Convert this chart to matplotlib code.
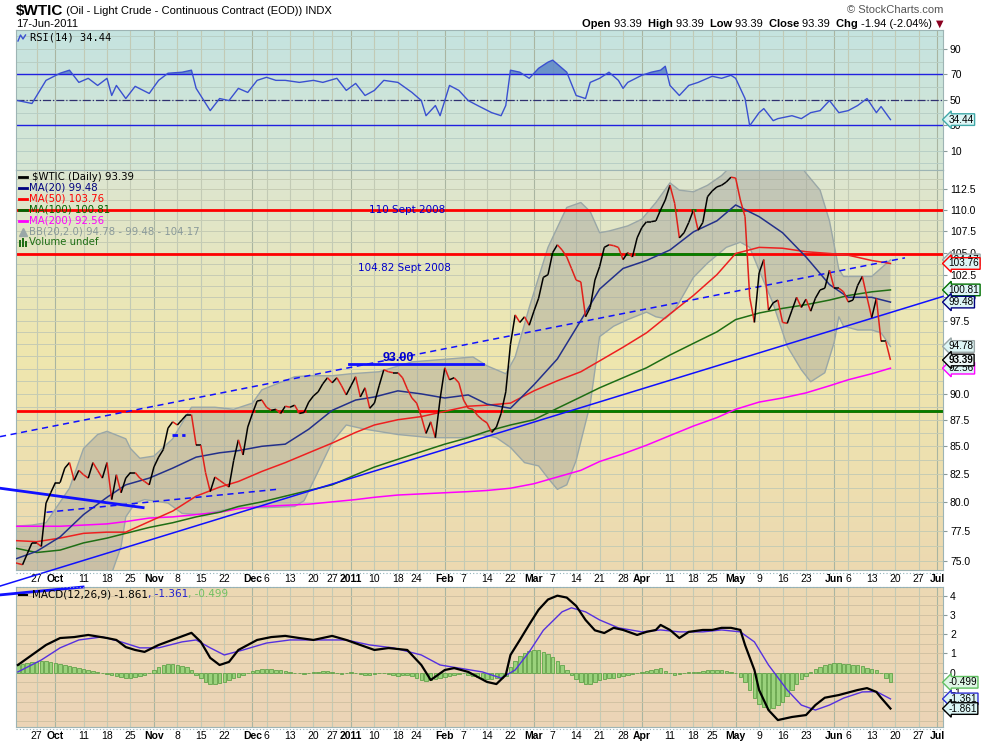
import numpy as np
import pandas as pd
import matplotlib
matplotlib.use('Agg')
import matplotlib.pyplot as plt
import matplotlib.transforms as mtransforms
from matplotlib.collections import LineCollection
from matplotlib.lines import Line2D
from matplotlib.ticker import FixedLocator, FormatStrFormatter, NullLocator

plt.rcParams['font.family'] = ['Liberation Sans', 'DejaVu Sans']

# trading days (NYMEX holidays left out, like the chart does)
holidays = ['2010-11-25', '2010-12-24', '2010-12-31', '2011-01-17',
            '2011-02-21', '2011-04-22', '2011-05-30']
days = pd.bdate_range('2010-09-20', '2011-07-01', freq='C', holidays=holidays)

# daily close, 20-Sep-2010 .. 17-Jun-2011
close = [74.9, 74.8, 74.7, 75.6, 76.5, 76.5, 76.2, 79.9, 80.8, 81.7,
         81.7, 83.0, 83.5, 81.9, 82.8, 82.4, 82.1, 83.5, 82.8, 82.1,
         83.5, 80.2, 82.4, 80.8,
         82.1, 82.6, 82.6, 82.1, 81.8, 81.5, 83.1, 84.0, 84.7, 86.7,
         87.3, 87.0, 87.5, 88.0, 88.0, 85.1, 85.1, 82.6, 80.9, 82.2,
         81.9, 81.6, 81.3, 83.7,
         85.6, 84.2, 86.8, 88.1, 89.3, 89.4, 88.7, 88.4, 88.5, 88.1,
         88.8, 88.7, 88.9, 88.1, 88.2, 89.2, 89.8, 90.2, 91.0, 91.6,
         91.1, 91.6, 90.8, 89.9, 90.8, 91.7, 89.7, 90.6,
         88.6, 89.1, 90.8, 92.4, 92.2, 92.1, 92.1, 91.6, 90.5, 89.6,
         89.1, 87.8, 86.2, 87.3, 85.8, 89.5, 92.6, 91.4, 91.6, 91.1,
         89.4, 88.6, 88.5,
         87.9, 87.5, 87.2, 86.3, 86.8, 88.1, 90.2, 95.0, 98.1, 97.3,
         97.9, 97.0, 98.5, 99.9, 102.2, 102.5, 105.0, 105.9, 105.3, 104.5,
         103.2, 101.9, 101.7, 97.9, 98.9, 101.9,
         103.4, 105.6, 105.9, 105.8, 105.6, 104.2, 105.0, 104.5, 106.7, 107.9,
         108.6, 108.6, 108.7, 110.0, 111.2, 113.0, 110.8, 106.7, 107.3, 108.5,
         110.0, 107.6, 108.5, 111.6,
         112.3, 112.8, 113.0, 113.4, 114.0, 113.9, 111.2, 109.2, 100.0, 97.3,
         102.7, 104.2, 98.6, 99.4, 99.7, 97.3, 97.2, 98.6, 100.0, 98.9,
         99.8, 98.5, 99.9, 100.8, 101.0,
         103.0, 101.0, 101.0, 100.6, 99.5, 99.7, 101.3, 102.3, 100.0, 97.8,
         99.9, 95.3, 95.3, 93.39]

# moving averages, read every few days
ma_idx = [0, 5, 10, 15, 20, 24, 29, 34, 39, 44, 48, 53, 58, 63, 68, 73, 77, 82, 87, 92,
          97, 101, 106, 111, 116, 121, 125, 130, 135, 140, 145, 150, 154, 159, 164, 169,
          174, 178, 183, 187]
ma20 = [75.1, 75.8, 77.0, 78.9, 80.4, 81.5, 82.1, 83.0, 84.0, 84.4, 84.6, 85.0, 85.2, 86.6,
        88.4, 89.4, 89.7, 90.3, 90.0, 89.6, 89.9, 89.0, 88.6, 90.9, 93.5, 97.5, 100.9, 103.2,
        104.1, 105.3, 107.4, 108.7, 110.6, 109.2, 107.3, 104.5, 101.4, 100.0, 100.0, 99.48]
ma50 = [76.7, 76.6, 76.9, 77.3, 77.4, 77.4, 78.3, 79.2, 80.5, 81.3, 81.8, 82.7, 83.5, 84.4,
        85.3, 86.3, 87.0, 87.5, 87.8, 88.3, 88.8, 88.9, 89.1, 90.3, 91.3, 92.2, 93.3, 94.7,
        96.2, 98.2, 100.2, 102.5, 104.9, 105.6, 105.5, 105.1, 104.9, 104.7, 104.1, 103.76]
ma100 = [76.1, 75.7, 75.9, 76.5, 76.9, 77.3, 77.8, 78.2, 78.7, 79.1, 79.6, 80.0, 80.5, 81.0,
         81.5, 82.4, 83.1, 83.8, 84.5, 85.2, 85.8, 86.4, 87.0, 87.5, 88.6, 89.7, 90.6, 91.6,
         92.6, 93.9, 95.1, 96.3, 97.6, 98.3, 98.8, 99.2, 99.7, 100.2, 100.6, 100.81]
ma200 = [77.9, 77.9, 77.9, 78.0, 78.1, 78.3, 78.6, 78.7, 78.9, 79.1, 79.4, 79.6, 79.7, 79.8,
         80.0, 80.2, 80.4, 80.6, 80.7, 80.8, 80.9, 81.0, 81.2, 81.6, 82.2, 82.8, 83.6, 84.3,
         85.1, 86.0, 86.9, 87.7, 88.5, 89.2, 89.6, 90.1, 90.8, 91.4, 92.0, 92.56]

# Bollinger bands (20, 2.0)
bb_up_idx = [0, 4, 7, 12, 15, 18, 20, 24, 25, 27, 30, 34, 38, 43, 47, 51, 53, 60, 63, 68,
             72, 78, 85, 93, 98, 101, 105, 107, 110, 114, 118, 121, 123, 125, 127, 131, 134,
             137, 140, 142, 145, 148, 151, 154, 158, 162, 166, 169, 172, 174, 176, 177, 179,
             183, 187]
bb_up = [77.9, 78.0, 78.2, 81.2, 84.8, 86.1, 86.4, 85.7, 84.8, 83.9, 84.1, 85.7, 88.7, 88.7,
         88.5, 89.1, 90.4, 91.7, 91.8, 91.8, 92.0, 92.2, 93.2, 93.5, 93.7, 92.8, 92.0, 93.7,
         98.9, 105.6, 110.3, 110.9, 109.8, 107.3, 107.5, 108.1, 108.9, 110.9, 113.3, 112.4,
         112.2, 113.0, 114.2, 116.0, 118.0, 118.5, 117.0, 114.5, 112.4, 108.7, 103.1, 102.3,
         102.3, 102.3, 104.17]
bb_lo_idx = [0, 5, 10, 15, 19, 21, 23, 24, 26, 28, 33, 36, 40, 45, 48, 54, 60, 62, 65, 68,
             71, 75, 82, 89, 96, 100, 103, 106, 109, 112, 114, 116, 118, 120, 123, 125, 128,
             131, 135, 137, 139, 141, 145, 148, 152, 155, 157, 159, 162, 165, 168, 170, 173,
             175, 176, 177, 180, 183, 185, 187]
bb_lo = [73.6, 73.2, 71.5, 70.5, 72.5, 74.0, 76.2, 78.7, 79.9, 80.2, 79.9, 79.0, 78.9, 79.3,
         79.5, 79.5, 79.6, 80.1, 82.7, 85.4, 87.0, 86.6, 86.1, 85.8, 85.8, 86.1, 85.8, 84.9,
         83.5, 83.2, 82.1, 81.1, 81.5, 83.7, 89.0, 95.8, 96.9, 97.6, 98.4, 97.9, 97.7, 98.6,
         102.2, 103.8, 105.6, 106.2, 105.6, 103.0, 99.3, 94.8, 92.4, 91.2, 92.1, 95.2, 97.9,
         96.9, 96.5, 96.5, 96.2, 94.78]

# RSI(14)
rsi_idx = [1, 4, 7, 10, 12, 14, 16, 18, 20, 21, 22, 24, 26, 29, 31, 33, 36, 38, 39, 42,
           44, 46, 48, 50, 52, 54, 56, 58, 61, 64, 66, 69, 71, 73, 75, 77, 79, 82, 85, 87,
           88, 90, 91, 93, 95, 97, 99, 102, 104, 105, 106, 108, 110, 112, 114, 115, 118, 120,
           122, 123, 125, 127, 129, 130, 131, 134, 136, 138, 139, 140, 142, 144, 146, 149,
           151, 153, 154, 156, 157, 159, 160, 162, 163, 166, 168, 170, 172, 174, 176, 178,
           180, 182, 184, 185, 187]
rsi = [49.4, 47.1, 65.3, 70.9, 73.3, 63.7, 66.9, 61.3, 66.9, 53.4, 61.3, 51.0, 60.6, 55.0,
       65.3, 70.9, 71.7, 73.3, 59.0, 41.5, 51.0, 49.4, 59.0, 55.8, 65.3, 67.7, 65.3, 65.3,
       63.7, 65.3, 63.7, 66.9, 57.4, 62.9, 53.4, 57.4, 65.3, 63.7, 55.8, 49.4, 37.5, 45.5,
       37.5, 61.3, 57.4, 49.4, 45.5, 39.9, 37.5, 45.5, 73.3, 71.7, 66.9, 74.8, 79.6, 81.2,
       71.7, 53.4, 51.0, 63.7, 66.9, 71.7, 65.3, 59.0, 63.7, 69.3, 71.7, 73.3, 76.4, 61.3,
       53.4, 61.3, 63.7, 68.5, 66.9, 69.3, 66.9, 51.0, 29.6, 39.9, 43.1, 33.6, 35.2, 37.5,
       35.2, 39.9, 41.5, 49.4, 39.9, 41.5, 45.5, 51.0, 39.9, 44.7, 34.44]

# MACD(12,26,9)
macd_idx = [1, 4, 7, 10, 13, 16, 20, 22, 24, 26, 28, 31, 35, 38, 40, 42, 44, 46, 48, 52,
            55, 58, 61, 64, 68, 71, 74, 77, 80, 84, 87, 89, 92, 94, 97, 101, 103, 105, 106,
            108, 110, 112, 114, 116, 118, 120, 122, 124, 126, 128, 130, 133, 135, 137, 138,
            140, 142, 144, 147, 149, 151, 153, 155, 156, 158, 159, 161, 163, 166, 169, 171,
            173, 176, 180, 182, 184, 185, 187]
macd = [0.4, 0.92, 1.44, 1.8, 1.85, 1.96, 1.8, 1.7, 1.33, 1.18, 1.08, 1.44, 1.8, 2.07, 1.6,
        0.77, 0.4, 0.56, 1.18, 1.7, 1.85, 1.91, 1.8, 1.7, 1.91, 1.7, 1.44, 1.18, 1.28, 1.18,
        0.4, -0.38, 0.14, 0.24, 0.04, -0.48, -0.59, -0.12, 0.92, 1.7, 2.5, 3.27, 3.8, 4.0,
        3.9, 3.47, 2.74, 2.2, 2.06, 2.33, 2.22, 1.96, 2.12, 2.22, 2.48, 2.22, 1.8, 2.12, 2.22,
        2.22, 2.33, 2.33, 2.22, 1.44, 0.14, -0.9, -1.94, -2.46, -2.3, -2.2, -1.68, -1.3,
        -1.16, -0.9, -0.8, -1.0, -1.3, -1.861]
sig_idx = [1, 6, 10, 14, 19, 23, 27, 31, 36, 39, 42, 45, 49, 54, 59, 65, 71, 76, 81, 87,
           91, 95, 100, 104, 107, 110, 113, 117, 119, 122, 125, 129, 134, 138, 142, 147, 151,
           155, 158, 161, 165, 168, 171, 174, 177, 181, 184, 187]
sig = [0.04, 0.66, 1.29, 1.70, 1.86, 1.6, 1.29, 1.29, 1.60, 1.70, 1.29, 0.92, 1.18, 1.54,
       1.70, 1.70, 1.70, 1.44, 1.29, 0.92, 0.40, 0.24, 0.04, -0.28, 0.14, 1.08, 2.2, 3.16,
       3.37, 3.16, 2.74, 2.33, 2.12, 2.22, 2.12, 2.12, 2.22, 2.12, 1.6, 0.4, -0.9, -1.68,
       -1.94, -1.68, -1.32, -1.0, -0.98, -1.361]
hist = [0.35, 0.4, 0.45, 0.5, 0.55, 0.55, 0.6, 0.6, 0.55,
        0.5, 0.45, 0.4, 0.35, 0.3, 0.25,
        0.2, 0.15, 0.1, 0.05, 0.0, -0.05,
        -0.1, -0.15, -0.2, -0.25, -0.25, -0.2, -0.15,
        -0.1, 0.0, 0.15, 0.3, 0.4, 0.45, 0.45,
        0.4, 0.35, 0.3, 0.15,
        -0.1, -0.3, -0.5, -0.6, -0.6, -0.55, -0.5, -0.4, -0.3, -0.2,
        -0.1, 0.0, 0.1, 0.15, 0.2, 0.2, 0.2, 0.15, 0.15, 0.1,
        0.05, 0.0, 0.0, -0.05, 0.0, 0.05, 0.05, 0.1, 0.1, 0.05, 0.0, -0.05, 0.0, 0.05,
        0.0, -0.05, -0.1, -0.1, -0.05, 0.0, 0.0, -0.05, -0.1, -0.15, -0.1, -0.1, -0.15,
        -0.25, -0.4, -0.45, -0.4, -0.35, -0.25, -0.2, -0.15, -0.1, -0.05,
        0.0, -0.1, -0.15, -0.2, -0.3, -0.35, -0.35, -0.3, -0.25, -0.15,
        0.3, 0.6, 0.85, 1.0, 1.15, 1.2, 1.2, 1.1, 0.95, 0.8, 0.6,
        0.4, 0.15, -0.1, -0.35, -0.5, -0.6, -0.6, -0.5, -0.4,
        -0.35, -0.3, -0.25, -0.2, -0.15, -0.1, -0.05, 0.0,
        0.05, 0.1, 0.15, 0.2, 0.25, 0.1, 0.0, -0.1, -0.05, 0.0, 0.05, 0.05,
        0.05, 0.1, 0.15, 0.15, 0.15, 0.15, 0.1, 0.05, 0.0,
        -0.2, -0.5, -0.9,
        -1.3, -1.6, -1.8, -1.9, -1.85, -1.7, -1.5, -1.2, -0.9,
        -0.6, -0.35, -0.15, 0.05, 0.2, 0.3,
        0.4, 0.45, 0.5, 0.5, 0.45, 0.45, 0.4, 0.4, 0.35, 0.25, 0.2, 0.15,
        0.0, -0.3, -0.499]

# annotations drawn on the chart (day index, price)
levels = [110.0, 104.82, 88.35]
trend_solid = ([-2.8, 198.2], [72.98, 100.1])
trend_dash = ([-2.8, 190.1], [85.9, 104.4])
trend_thick = ([-2.8, 27.7], [81.2, 79.5])
trend_small = ([7.1, 56.2], [79.1, 81.1])
mark_short = ([33.8, 36.6], [86.1, 86.1])
line_93 = ([71.6, 100.2], [93.0, 93.0])
macd_stray = ([-2.8, 14.9], [4.04, 4.45])

# ---------------------------------------------------------------
FW, FH = 990.0, 744.0
fig = plt.figure(figsize=(FW / 100, FH / 100), dpi=100)
fig.patch.set_facecolor('white')
L, Wd = 16 / FW, 927 / FW
ax_r = fig.add_axes([L, 1 - 170 / FH, Wd, 140 / FH])
ax_p = fig.add_axes([L, 1 - 570 / FH, Wd, 400 / FH])
ax_m = fig.add_axes([L, 1 - 727 / FH, Wd, 140 / FH])
XLIM = (0.6, 198.2)

ax_p.set_yscale('log')
ax_p.set_ylim(74.27, 114.9)
ax_r.set_ylim(-5.2, 104.9)
ax_m.set_ylim(-2.82, 4.45)


def gradient(ax, stops):
    pos = [s[0] for s in stops]
    cols = np.array([matplotlib.colors.to_rgb(s[1]) for s in stops])
    t = np.linspace(0, 1, 256)
    img = np.stack([np.interp(t, pos, cols[:, c]) for c in range(3)], axis=1)[:, None, :]
    ax.imshow(img, extent=[0, 1, 0, 1], transform=ax.transAxes, aspect='auto',
              zorder=0, interpolation='bilinear')


for ax in (ax_r, ax_p, ax_m):
    ax.set_xlim(*XLIM)
    ax.set_autoscale_on(False)
    for sp in ax.spines.values():
        sp.set_color('#9db4b4')
    ax.tick_params(axis='x', bottom=False, labelbottom=False)
    ax.tick_params(axis='y', which='both', left=False, labelleft=False, right=True,
                   labelright=True, labelsize=7.5, length=3, color='#8a9a9a', pad=2)

gradient(ax_r, [(0, '#c5e3e0'), (1, '#d6e6d3')])
gradient(ax_p, [(0, '#dce5d1'), (0.45, '#efe7ae'), (1, '#ecd9b1')])
gradient(ax_m, [(0, '#edd9b3'), (1, '#ebd4b7')])

# date labels and vertical grid
month_k = [k for k in range(1, len(days)) if days[k].month != days[k - 1].month]
week_k = [k for k in range(1, len(days))
          if days[k].isocalendar()[1] != days[k - 1].isocalendar()[1]]
date_labels = []
for k in month_k:
    d = days[k]
    date_labels.append((k, '2011' if d.month == 1 else d.strftime('%b'), True))
for k in week_k:
    if k in month_k or any(abs(k - m) <= 2 for m in month_k):
        continue
    date_labels.append((k, str(days[k].day), False))
date_labels = [lab for lab in date_labels if XLIM[0] <= lab[0] <= XLIM[1]]

for ax in (ax_r, ax_p, ax_m):
    for k, s, bold in date_labels:
        ax.axvline(k, color='#a9b5a1' if bold else '#c2cab5', lw=0.8, zorder=0.5)

for yy in np.arange(73.75, 115, 1.25):
    ax_p.axhline(yy, color='#c6ccb4', lw=0.7, zorder=0.5)
for yy in range(0, 101, 10):
    ax_r.axhline(yy, color='#b8cfc6', lw=0.7, zorder=0.5)
for yy in np.arange(-2.5, 4.6, 0.5):
    ax_m.axhline(yy, color='#d2c2a3', lw=0.7, zorder=0.5)

tr_dates = mtransforms.blended_transform_factory(ax_p.transData, fig.transFigure)
for ypx in (579, 736):
    for k, s, bold in date_labels:
        ax_p.text(k, 1 - ypx / FH, s, transform=tr_dates, ha='center', va='center',
                  fontsize=7.5, fontweight='bold' if bold else 'normal', color='black')
for ypx in (572.5, 586.5, 728.5):
    fig.add_artist(Line2D([L, L + Wd], [1 - ypx / FH] * 2, transform=fig.transFigure,
                          color='#8fb0b8', lw=0.8, ls=(0, (1, 2))))

# ---------------- price panel ----------------
c = np.array(close)
x = np.arange(len(c))
ax_p.fill(np.r_[bb_up_idx, bb_lo_idx[::-1]], np.r_[bb_up, bb_lo[::-1]],
          color='#9d9d98', alpha=0.42, lw=0, zorder=1)
ax_p.plot(bb_up_idx, bb_up, color='#9aa7a7', lw=1, zorder=1.2)
ax_p.plot(bb_lo_idx, bb_lo, color='#9aa7a7', lw=1, zorder=1.2)

for lev in levels:
    ax_p.axhline(lev, color='#ff0000', lw=2, zorder=2)
    above = c >= lev
    k = 0
    while k < len(c):
        if above[k]:
            s0 = k
            while k < len(c) and above[k]:
                k += 1
            x1 = k - 0.5 if k < len(c) else XLIM[1]
            ax_p.hlines(lev, s0 - 0.5, x1, color='#008000', lw=2, zorder=2.1)
        else:
            k += 1

ax_p.plot(ma_idx, ma200, color='#ff00ff', lw=1.1, zorder=3)
ax_p.plot(ma_idx, ma100, color='#1f6e14', lw=1.1, zorder=3)
ax_p.plot(ma_idx, ma50, color='#ee2020', lw=1.1, zorder=3)
ax_p.plot(ma_idx, ma20, color='#23308a', lw=1.1, zorder=3)

blue = '#1010ff'
ax_p.plot(*trend_solid, color=blue, lw=1.1, zorder=4, clip_on=False)
ax_p.plot(*trend_dash, color=blue, lw=1.1, ls=(0, (4, 3)), zorder=4, clip_on=False)
ax_p.plot(*trend_thick, color=blue, lw=2, zorder=4, clip_on=False)
ax_p.plot(*trend_small, color=blue, lw=1.1, ls=(0, (4, 3)), zorder=4)
ax_p.plot(*mark_short, color=blue, lw=2, ls=(0, (2, 1.5)), zorder=4)
ax_p.plot(*line_93, color=blue, lw=2, zorder=4)
ax_m.plot(*macd_stray, color=blue, lw=2, zorder=4, clip_on=False)

segs = [[(x[i], c[i]), (x[i + 1], c[i + 1])] for i in range(len(c) - 1)]
cols = ['#000000' if c[i + 1] >= c[i] else '#e0201a' for i in range(len(c) - 1)]
ax_p.add_collection(LineCollection(segs, colors=cols, linewidths=1.1, zorder=5))

ax_p.text(75.9, 110.0, '110 Sept 2008', color='#0000cc', fontsize=7.5, va='center',
          ha='left', family='DejaVu Sans', zorder=6)
ax_p.text(73.5, 103.3, '104.82 Sept 2008', color='#0000cc', fontsize=7.5, va='center',
          ha='left', family='DejaVu Sans', zorder=6)
ax_p.text(82.0, 93.6, '93.00', color='#0000cc', fontsize=9, fontweight='bold',
          va='center', ha='center', zorder=6)

ax_p.yaxis.set_major_locator(FixedLocator(np.arange(75, 113, 2.5)))
ax_p.yaxis.set_major_formatter(FormatStrFormatter('%.1f'))
ax_p.yaxis.set_minor_locator(NullLocator())

# legend of the price panel
leg = [('$WTIC (Daily) %.2f' % close[-1], '#000000'),
       ('MA(20) %.2f' % ma20[-1], '#000080'),
       ('MA(50) %.2f' % ma50[-1], '#ff0000'),
       ('MA(100) %.2f' % ma100[-1], '#006400'),
       ('MA(200) %.2f' % ma200[-1], '#ff00ff'),
       ('BB(20,2.0) %.2f - %.2f - %.2f' % (bb_lo[-1], ma20[-1], bb_up[-1]), '#8a9a9a'),
       ('Volume undef', '#1f6e14')]
for n, (s, col) in enumerate(leg):
    ypx = 177 + n * 10.9
    yf = (570 - ypx) / 400
    xt = 32 if n == 0 else 29
    if n < 5:
        ax_p.plot([(19 - 16) / 927, (27 - 16) / 927], [yf, yf], color=col, lw=2,
                  transform=ax_p.transAxes, zorder=7, clip_on=False)
    elif n == 5:
        ax_p.plot([(23 - 16) / 927], [yf], marker='^', ms=6, color='#9aa7a7',
                  transform=ax_p.transAxes, zorder=7)
    else:
        ax_p.bar([(20 - 16) / 927, (23 - 16) / 927, (26 - 16) / 927], [0.016, 0.022, 0.014],
                 width=2 / 927, bottom=yf - 0.011, color=col, transform=ax_p.transAxes,
                 zorder=7)
    ax_p.text((xt - 16) / 927, yf, s, transform=ax_p.transAxes, color=col, fontsize=7.3,
              family='DejaVu Sans', va='center', ha='left', zorder=7)

# ---------------- RSI panel ----------------
r = np.array(rsi)
ax_r.fill_between(rsi_idx, r, 70, where=r >= 70, interpolate=True, color='#5a84c6',
                  alpha=0.85, lw=0, zorder=2)
ax_r.fill_between(rsi_idx, r, 30, where=r <= 30, interpolate=True, color='#5a84c6',
                  alpha=0.85, lw=0, zorder=2)
ax_r.axhline(70, color='#2020e0', lw=1, zorder=2.5)
ax_r.axhline(30, color='#2020e0', lw=1, zorder=2.5)
ax_r.axhline(50, color='#303070', lw=0.9, ls='-.', zorder=2.5)
ax_r.plot(rsi_idx, rsi, color='#3a50d0', lw=1, zorder=3)
ax_r.yaxis.set_major_locator(FixedLocator([10, 30, 50, 70, 90]))
ax_r.plot([(18 - 16) / 927, (20.5 - 16) / 927, (23 - 16) / 927, (25.5 - 16) / 927],
          [(170 - 41) / 140, (170 - 35) / 140, (170 - 39) / 140, (170 - 35) / 140],
          color='#3a50d0', lw=1, transform=ax_r.transAxes, zorder=7, clip_on=False)
ax_r.text((30 - 16) / 927, (170 - 38) / 140, 'RSI(14) %.2f' % rsi[-1],
          transform=ax_r.transAxes, fontsize=7.5, family='DejaVu Sans Mono', va='center',
          ha='left', zorder=7)

# ---------------- MACD panel ----------------
ax_m.bar(np.arange(len(hist)), hist, width=0.75, color='#9ad27c', edgecolor='#4f9a3a',
         linewidth=0.5, zorder=2)
ax_m.plot(sig_idx, sig, color='#5530e0', lw=1, zorder=3)
ax_m.plot(macd_idx, macd, color='#000000', lw=1.6, zorder=3.5)
ax_m.yaxis.set_major_locator(FixedLocator([-2, -1, 0, 1, 2, 3, 4]))
ax_m.plot([(19 - 16) / 927, (27 - 16) / 927], [(727 - 594.5) / 140] * 2, color='black',
          lw=1.5, transform=ax_m.transAxes, zorder=7)

# ---------------- value tags on the right ----------------


def tag(ax, val, text, ec, fc='#ddf6f6', bold=False):
    ax.annotate(text, xy=(1, val), xycoords=('axes fraction', 'data'), xytext=(4, 0),
                textcoords='offset points', ha='left', va='center', fontsize=7.2,
                fontweight='bold' if bold else 'normal', annotation_clip=False, zorder=9,
                bbox=dict(boxstyle='larrow,pad=0.08', fc=fc, ec=ec, lw=1))


tag(ax_p, bb_up[-1], '%.2f' % bb_up[-1], '#9aa7a7')
tag(ax_p, ma50[-1], '%.2f' % ma50[-1], '#ff0000')
tag(ax_p, ma100[-1], '%.2f' % ma100[-1], '#007000')
tag(ax_p, ma20[-1], '%.2f' % ma20[-1], '#000080')
tag(ax_p, bb_lo[-1], '%.2f' % bb_lo[-1], '#9aa7a7')
tag(ax_p, ma200[-1], '%.2f' % ma200[-1], '#ff00ff')
tag(ax_p, close[-1], '%.2f' % close[-1], '#000000', fc='#eef8f8', bold=True)
tag(ax_r, rsi[-1], '%.2f' % rsi[-1], '#40a8a8')
tag(ax_m, hist[-1], '%.3f' % hist[-1], '#60c060', fc='#dff6e6')
tag(ax_m, sig[-1], '%.3f' % sig[-1], '#3030d0')
tag(ax_m, macd[-1], '%.3f' % macd[-1], '#000000')

# ---------------- header texts ----------------
fig.canvas.draw()
rend = fig.canvas.get_renderer()


def chain(x_px, y_px, parts, right=False):
    xx = x_px
    seq = list(reversed(parts)) if right else parts
    for s, kw in seq:
        t = fig.text(xx / FW, 1 - y_px / FH, s, ha='right' if right else 'left',
                     va='center', **kw)
        bb = t.get_window_extent(rend)
        xx = bb.x0 if right else bb.x1


chain(16, 11, [('$WTIC', dict(fontsize=11, fontweight='bold')),
               (' (Oil - Light Crude - Continuous Contract (EOD)) INDX', dict(fontsize=8))])
fig.text(16 / FW, 1 - 24 / FH, '17-Jun-2011', fontsize=8, ha='left', va='center')
fig.text(943 / FW, 1 - 10 / FH, '\u00a9 StockCharts.com', fontsize=8, color='#555555',
         ha='right', va='center')
cl = '%.2f ' % close[-1]
chain(943, 24, [('Open ', dict(fontsize=8, fontweight='bold')), (cl + ' ', dict(fontsize=8)),
                ('High ', dict(fontsize=8, fontweight='bold')), (cl + ' ', dict(fontsize=8)),
                ('Low ', dict(fontsize=8, fontweight='bold')), (cl + ' ', dict(fontsize=8)),
                ('Close ', dict(fontsize=8, fontweight='bold')), (cl + ' ', dict(fontsize=8)),
                ('Chg ', dict(fontsize=8, fontweight='bold')),
                ('-1.94 (-2.04%) ', dict(fontsize=8)),
                ('\u25bc', dict(fontsize=7, color='#8b0020', family='DejaVu Sans'))],
      right=True)
chain(32, 594.5, [('MACD(12,26,9) %.3f' % macd[-1], dict(fontsize=7.5, family='DejaVu Sans')),
                  (', %.3f' % sig[-1], dict(fontsize=7.5, family='DejaVu Sans', color='#2020d0')),
                  (', %.3f' % hist[-1], dict(fontsize=7.5, family='DejaVu Sans',
                                             color='#70c060'))])

fig.savefig('out.png', dpi=100)
